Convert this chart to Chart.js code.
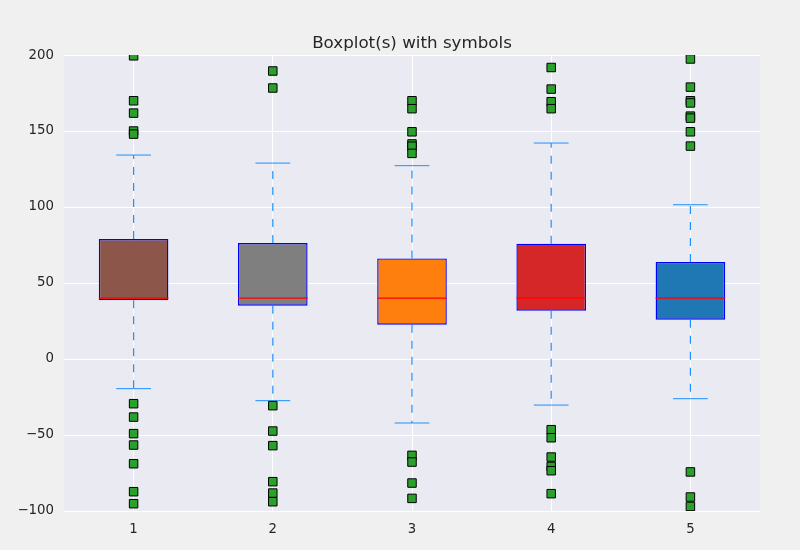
<!DOCTYPE html>
<html><head><meta charset="utf-8">
<script src="https://cdn.jsdelivr.net/npm/chart.js@4.4.1/dist/chart.umd.min.js"></script>
<style>html,body{margin:0;padding:0;background:#f0f0f0;}canvas{display:block;}</style>
</head><body>
<canvas id="c" width="800" height="550"></canvas>
<script>
// ---- data ----
const categories = [1, 2, 3, 4, 5];
const q1 = [38.6, 35.1, 22.6, 31.8, 25.9];
const q3 = [78.9, 76.3, 66.2, 75.9, 63.8];
const medians = [40, 40, 40, 40, 40];
const whiskerLow = [-19.5, -27.4, -42.1, -30.3, -26.1];
const whiskerHigh = [134.2, 128.9, 127.2, 142.1, 101.5];
const outliers1 = [199.5, 169.9, 161.8, 150.0, 148.0, -29.4, -38.2, -49.1, -56.6, -68.9, -87.3, -95.2];
const outliers2 = [189.5, 178.3, -30.7, -47.4, -57.0, -80.7, -88.2, -93.9];
const outliers3 = [169.9, 164.7, 149.5, 141.5, 140.0, 135.3, -63.4, -67.8, -81.6, -91.7];
const outliers4 = [191.8, 177.6, 169.3, 164.7, -46.5, -51.8, -64.5, -70.7, -73.5, -88.6];
const outliers5 = [197.4, 178.9, 169.9, 168.5, 159.8, 158.5, 149.5, 140.1, -74.3, -90.8, -97.0];
const outliers = [outliers1, outliers2, outliers3, outliers4, outliers5];
const xTicks = [1, 2, 3, 4, 5];
const yTicks = [-100, -50, 0, 50, 100, 150, 200];
const titleText = 'Boxplot(s) with symbols';
const boxColors = ['#8c564b', '#7f7f7f', '#ff7f0e', '#d62728', '#1f77b4'];

// ---- derived datasets ----
const boxHalf = 0.25, capHalf = 0.125;
const boxData = categories.map((c, i) => ({x: c, y: [q1[i], q3[i]]}));
const medianData = categories.flatMap((c, i) => [
  {x: c - boxHalf, y: medians[i]}, {x: c + boxHalf, y: medians[i]}, {x: c, y: null}]);
const capData = categories.flatMap((c, i) => [
  {x: c - capHalf, y: whiskerLow[i]}, {x: c + capHalf, y: whiskerLow[i]}, {x: c, y: null},
  {x: c - capHalf, y: whiskerHigh[i]}, {x: c + capHalf, y: whiskerHigh[i]}, {x: c, y: null}]);
const whiskerData = categories.flatMap((c, i) => [
  {x: c, y: q1[i]}, {x: c, y: whiskerLow[i]}, {x: c, y: null},
  {x: c, y: q3[i]}, {x: c, y: whiskerHigh[i]}, {x: c, y: null}]);
const outlierData = categories.flatMap((c, i) => outliers[i].map(v => ({x: c, y: v})));

const plotBg = {
  id: 'plotBg',
  beforeDraw(chart) {
    const {ctx, chartArea: a} = chart;
    ctx.save();
    ctx.fillStyle = '#eaeaf2';
    ctx.fillRect(a.left, a.top, a.right - a.left, a.bottom - a.top);
    ctx.restore();
  }
};

const font = 'DejaVu Sans';
const textColor = '#262626';

new Chart(document.getElementById('c'), {
  type: 'bar',
  data: {
    datasets: [
      {type: 'scatter', data: outlierData, pointStyle: 'rect', pointRadius: 6, pointHoverRadius: 6,
       backgroundColor: '#2ca02c', borderColor: '#000000', pointBorderWidth: 1, order: 0},
      {type: 'scatter', data: medianData, showLine: true, spanGaps: false, borderColor: '#ff0000',
       borderWidth: 1.2, pointRadius: 0, order: 1},
      {type: 'scatter', data: capData, showLine: true, spanGaps: false, borderColor: '#1e90ff',
       borderWidth: 1, pointRadius: 0, order: 2},
      {type: 'bar', data: boxData, backgroundColor: boxColors, borderColor: '#0000ff', borderWidth: 1.4,
       borderSkipped: false, barPercentage: 0.5, categoryPercentage: 1, grouped: false, order: 3},
      {type: 'scatter', data: whiskerData, showLine: true, spanGaps: false, borderColor: '#1e90ff',
       borderWidth: 1.2, borderDash: [8, 8], pointRadius: 0, order: 4}
    ]
  },
  options: {
    responsive: false,
    animation: false,
    devicePixelRatio: 1,
    layout: {padding: {left: 0, right: 40, top: 0, bottom: 0}},
    plugins: {
      legend: {display: false},
      tooltip: {enabled: false},
      title: {display: true, fullSize: false, text: titleText, color: textColor,
              font: {family: font, size: 16.7, weight: 'normal'}, padding: {top: 34, bottom: 1}}
    },
    scales: {
      x: {
        type: 'linear', min: 0.5, max: 5.5, offset: false,
        afterBuildTicks: s => { s.ticks = xTicks.map(v => ({value: v})); },
        afterFit: s => { s.height = 39; },
        grid: {color: '#ffffff', lineWidth: 1, drawTicks: false, offset: false},
        border: {display: false},
        ticks: {color: textColor, font: {family: font, size: 13.3}, padding: 11,
                callback: v => String(v), maxRotation: 0}
      },
      y: {
        type: 'linear', min: -100, max: 200, beginAtZero: false,
        afterBuildTicks: s => { s.ticks = yTicks.map(v => ({value: v})); },
        afterFit: s => { s.width = 64; },
        grid: {color: '#ffffff', lineWidth: 1, drawTicks: false},
        border: {display: false},
        ticks: {color: textColor, font: {family: font, size: 13.3}, padding: 10,
                callback: v => String(v).replace('-', '\u2212')}
      }
    }
  },
  plugins: [plotBg]
});
</script>
</body></html>
